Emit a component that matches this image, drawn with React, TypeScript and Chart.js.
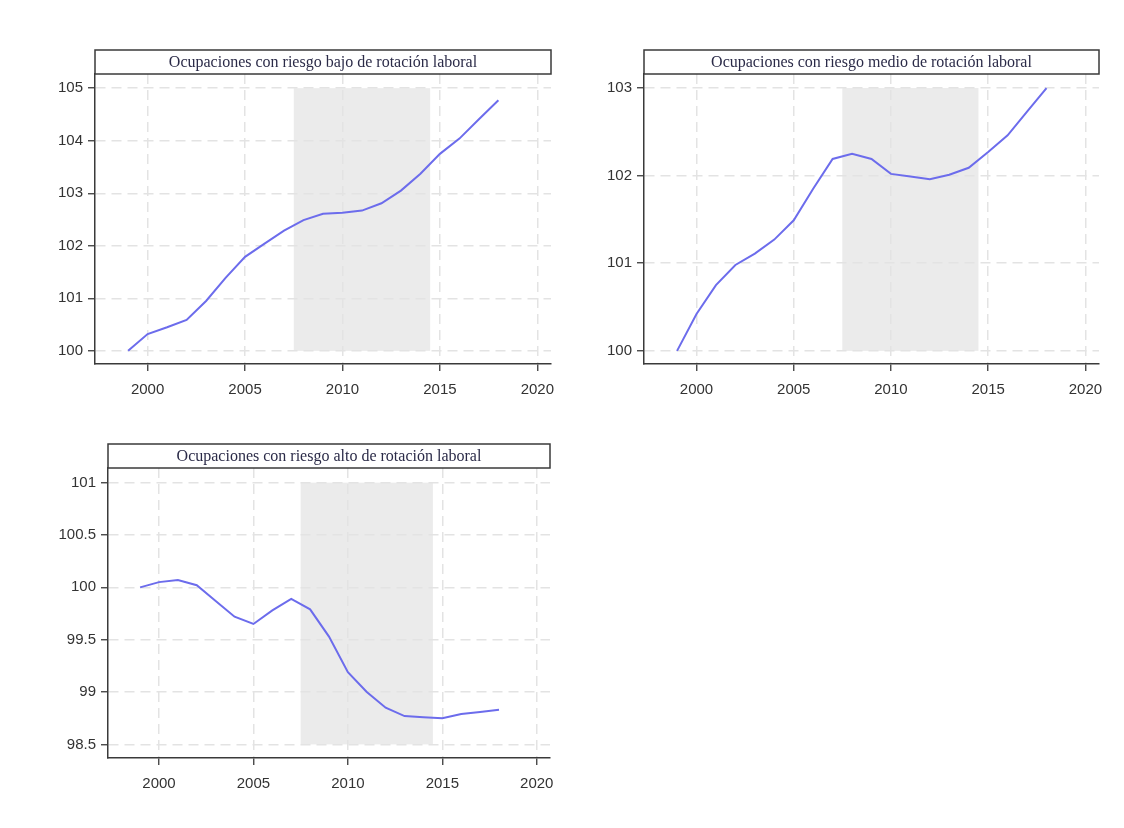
import React, { useEffect, useRef } from "react";
import { Chart, registerables } from "chart.js";

Chart.register(...registerables);

const years = [1999, 2000, 2001, 2002, 2003, 2004, 2005, 2006, 2007, 2008, 2009, 2010, 2011, 2012, 2013, 2014, 2015, 2016, 2017, 2018];

const bajoValues = [100.0, 100.32, 100.45, 100.59, 100.95, 101.39, 101.79, 102.04, 102.29, 102.49, 102.61, 102.63, 102.67, 102.81, 103.05, 103.37, 103.75, 104.04, 104.41, 104.77];
const medioValues = [100.0, 100.42, 100.75, 100.98, 101.11, 101.27, 101.49, 101.85, 102.19, 102.25, 102.19, 102.02, 101.99, 101.96, 102.01, 102.09, 102.27, 102.46, 102.73, 103.0];
const altoValues = [100.0, 100.05, 100.07, 100.02, 99.87, 99.72, 99.65, 99.78, 99.89, 99.79, 99.53, 99.19, 99.0, 98.85, 98.77, 98.76, 98.75, 98.79, 98.81, 98.83];

const xTicks = [2000, 2005, 2010, 2015, 2020];
const bajoTicks = [100, 101, 102, 103, 104, 105];
const medioTicks = [100, 101, 102, 103];
const altoTicks = [98.5, 99, 99.5, 100, 100.5, 101];

const shadeRange = [2007.5, 2014.5];

const titles = [
  "Ocupaciones con riesgo bajo de rotación laboral",
  "Ocupaciones con riesgo medio de rotación laboral",
  "Ocupaciones con riesgo alto de rotación laboral",
];

type PanelProps = {
  title: string;
  values: number[];
  yTicks: number[];
  yMin: number;
  yMax: number;
  left: number;
  top: number;
  yWidth: number;
  padRight: number;
};

const LINE_COLOR = "#6c6cec";
const GRID_COLOR = "#e3e3e3";
const AXIS_COLOR = "#3a3a3a";
const TEXT_COLOR = "#333333";

function Panel(p: PanelProps) {
  const ref = useRef<HTMLCanvasElement | null>(null);
  useEffect(() => {
    if (!ref.current) return;
    const shadePlugin = {
      id: "shade",
      beforeDraw(chart: any) {
        const { ctx, scales } = chart;
        const x0 = scales.x.getPixelForValue(shadeRange[0]);
        const x1 = scales.x.getPixelForValue(shadeRange[1]);
        const y0 = scales.y.getPixelForValue(p.yTicks[p.yTicks.length - 1]);
        const y1 = scales.y.getPixelForValue(p.yTicks[0]);
        ctx.save();
        ctx.fillStyle = "#ebebeb";
        ctx.fillRect(x0, y0, x1 - x0, y1 - y0);
        ctx.restore();
      },
    };
    const titlePlugin = {
      id: "titlebox",
      afterDraw(chart: any) {
        const { ctx, chartArea } = chart;
        const h = 24;
        const l = chartArea.left;
        const w = chartArea.right - chartArea.left;
        const t = chartArea.top - h;
        ctx.save();
        ctx.fillStyle = "#ffffff";
        ctx.fillRect(l, t, w, h);
        ctx.strokeStyle = AXIS_COLOR;
        ctx.lineWidth = 1.5;
        ctx.strokeRect(l, t, w, h);
        ctx.fillStyle = "#2b2b48";
        ctx.font = '16px "Liberation Serif", serif';
        ctx.textAlign = "center";
        ctx.textBaseline = "middle";
        ctx.fillText(p.title, l + w / 2, t + h / 2 + 1);
        ctx.restore();
      },
    };
    const chart = new Chart(ref.current, {
      type: "line",
      data: {
        datasets: [
          {
            data: years.map((y, i) => ({ x: y, y: p.values[i] })),
            borderColor: LINE_COLOR,
            borderWidth: 2,
            pointRadius: 0,
            tension: 0,
            fill: false,
          },
        ],
      },
      options: {
        animation: false,
        responsive: false,
        maintainAspectRatio: false,
        layout: { padding: { top: 34, right: p.padRight, bottom: 16, left: 0 } },
        plugins: { legend: { display: false }, tooltip: { enabled: false }, title: { display: false } },
        scales: {
          x: {
            type: "linear",
            min: 1997.3,
            max: 2020.7,
            afterBuildTicks: (s: any) => {
              s.ticks = xTicks.map((v) => ({ value: v }));
            },
            afterFit: (s: any) => {
              s.height = 40;
            },
            ticks: {
              color: TEXT_COLOR,
              font: { family: '"Liberation Sans", sans-serif', size: 15 },
              padding: 10,
              callback: (v: any) => String(v),
              maxRotation: 0,
              autoSkip: false,
            },
            grid: {
              color: GRID_COLOR,
              lineWidth: 1.5,
              tickColor: AXIS_COLOR,
              tickLength: 7,
              tickWidth: 1.3,
              tickBorderDash: [],
            },
            border: { display: true, color: AXIS_COLOR, width: 1.5, dash: [10, 6] },
          },
          y: {
            type: "linear",
            min: p.yMin,
            max: p.yMax,
            afterBuildTicks: (s: any) => {
              s.ticks = p.yTicks.map((v) => ({ value: v }));
            },
            afterFit: (s: any) => {
              s.width = p.yWidth;
            },
            ticks: {
              color: TEXT_COLOR,
              font: { family: '"Liberation Sans", sans-serif', size: 15 },
              padding: 5,
              callback: (v: any) => String(v),
              autoSkip: false,
            },
            grid: {
              color: GRID_COLOR,
              lineWidth: 1.5,
              tickColor: AXIS_COLOR,
              tickLength: 7,
              tickWidth: 1.3,
              tickBorderDash: [],
            },
            border: { display: true, color: AXIS_COLOR, width: 1.5, dash: [10, 6] },
          },
        },
      } as any,
      plugins: [shadePlugin, titlePlugin],
    });
    return () => chart.destroy();
  }, []);
  return (
    <div style={{ position: "absolute", left: p.left, top: p.top, width: 545, height: 380 }}>
      <canvas ref={ref} width={545} height={380} style={{ width: 545, height: 380 }} />
    </div>
  );
}

export default function App() {
  return (
    <div style={{ position: "fixed", left: 0, top: 0, width: 1124, height: 828, background: "#ffffff" }}>
      <Panel title={titles[0]} values={bajoValues} yTicks={bajoTicks} yMin={99.75} yMax={105.27} left={20} top={40} yWidth={75} padRight={14} />
      <Panel title={titles[1]} values={medioValues} yTicks={medioTicks} yMin={99.85} yMax={103.16} left={570} top={40} yWidth={74} padRight={16} />
      <Panel title={titles[2]} values={altoValues} yTicks={altoTicks} yMin={98.37} yMax={101.14} left={20} top={434} yWidth={88} padRight={15} />
    </div>
  );
}
